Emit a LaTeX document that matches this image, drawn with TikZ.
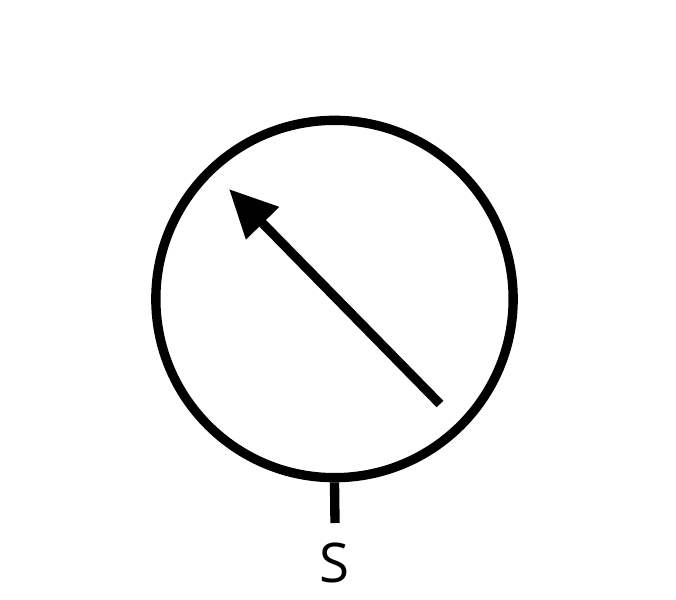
\documentclass[tikz,border=0pt]{standalone}
\usepackage{fontspec}
\setmainfont{Open Sans}
\usetikzlibrary{arrows.meta, positioning}

\begin{document}
\begin{tikzpicture}[
    x=0.75pt, y=-0.75pt,
    >={Triangle[length=36pt, width=33pt]},
    dial/.style={circle, draw, line width=7pt, inner sep=0pt, minimum size=268pt},
    stem/.style={line width=7pt},
    needle/.style={->, line width=7pt},
    tag/.style={font=\fontsize{41}{44}\selectfont, inner sep=0pt, anchor=base}
]
\useasboundingbox (0,0) rectangle (676,600);
\node[dial] (gauge) at (334.5,299) {};
\coordinate (stemend) at (335,523);
\coordinate (tail) at (440,404);
\coordinate (tip) at (229,189);
\node[tag] (label) at (335,582) {S};
\draw[stem] (gauge.south) -- (stemend);
\draw[needle] (tail) -- (tip);
\end{tikzpicture}
\end{document}
